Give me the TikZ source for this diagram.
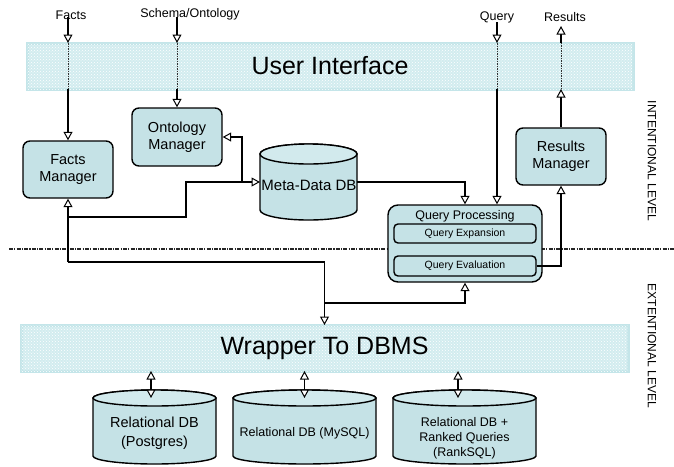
\documentclass[tikz,border=0pt]{standalone}
\usepackage{fontspec}
\setmainfont{Liberation Sans}
\usetikzlibrary{arrows.meta,patterns}
\definecolor{boxfill}{RGB}{197,226,230}
\definecolor{boxtop}{RGB}{210,234,237}
\definecolor{barfill}{RGB}{210,236,239}
\definecolor{barborder}{RGB}{196,229,233}
\newcommand\dbcyl[5]{% x1, x2, top-centre y, bottom-centre y, ry
  \pgfmathsetmacro\cylcx{(#1+#2)/2}%
  \pgfmathsetmacro\cylrx{(#2-#1)/2}%
  \filldraw[cyl] (#1,#3) -- (#1,#4) arc[start angle=180,end angle=360,x radius=\cylrx pt,y radius=#5pt] -- (#2,#3) arc[start angle=0,end angle=180,x radius=\cylrx pt,y radius=#5pt] -- cycle;
  \filldraw[cyl,fill=boxtop] (\cylcx,#3) ellipse[x radius=\cylrx pt,y radius=#5pt];
}
\tikzset{
 box/.style={draw=black, line width=1.4pt, fill=boxfill, rounded corners=7pt, align=center, inner sep=0pt, font=\fontsize{14.5}{17}\selectfont},
 grp/.style={draw=black, line width=1.4pt, fill=boxfill, rounded corners=10pt, inner sep=0pt},
 sub/.style={draw=black, line width=1.4pt, fill=boxfill, rounded corners=4pt, inner sep=0pt, font=\fontsize{10.5}{12}\selectfont},
 bar/.style={draw=barborder, line width=3pt, fill=barfill, inner sep=0pt, outer sep=0pt, font=\fontsize{25}{30}\selectfont, postaction={pattern=crosshatch dots, pattern color=white}},
 lab/.style={font=\fontsize{12.5}{15}\selectfont, inner sep=0pt},
 conn/.style={line width=1.6pt, draw=black},
 thru/.style={line width=1pt, draw=black!80, dash pattern=on 1.5pt off 1pt},
 sep/.style={line width=1.3pt, draw=black!85, dash pattern=on 4pt off 1.2pt on 1.2pt off 1.2pt},
 cyl/.style={draw=black, line width=1.4pt, fill=boxfill},
 dbslot/.style={inner sep=0pt, outer sep=0pt},
 dbtext/.style={align=center, inner sep=0pt},
 lvl/.style={font=\fontsize{12}{14}\selectfont, rotate=-90, inner sep=0pt},
}
\begin{document}
\begin{tikzpicture}[x=1pt,y=-1pt,>={Triangle[length=8.5pt,width=9pt,fill=white,line width=1pt]}]
\useasboundingbox[fill=white] (0,0) rectangle (674,466);

% separator
\coordinate (dl) at (9,249);
\coordinate (dr) at (674,249);
\draw[sep] (dl) -- (dr);

% bars
\node[bar, minimum width=606, minimum height=46] (ui) at (330,66) {User Interface};
\node[bar, minimum width=607, minimum height=46] (wrap) at (324.5,348) {Wrapper To DBMS};

% top labels
\node[lab] (flab) at (71,15) {Facts};
\node[lab] (slab) at (190,14) {Schema/Ontology};
\node[lab] (qlab) at (497,17) {Query};
\node[lab] (rlab) at (565,17) {Results};
\coordinate (ftop) at (68,17);
\coordinate (stop) at (177,17);
\coordinate (qtop) at (497,22);
\coordinate (rtop) at (561,26);

% boxes
\node[box, minimum width=90, minimum height=57] (fm) at (68,169.5) {Facts\\Manager};
\node[box, minimum width=90, minimum height=58] (om) at (177,137) {Ontology\\Manager};
\node[box, minimum width=90, minimum height=57] (rm) at (561,156.5) {Results\\Manager};

% meta-data db
\dbcyl{260}{357}{154}{210}{10}
\node[dbslot, minimum width=97, minimum height=56] (mdb) at (308.5,182) {};
\node[dbtext, font=\fontsize{15}{18}\selectfont] (mdbt) at (309,185) {Meta-Data DB};

% query processing
\node[grp, minimum width=154, minimum height=77] (qp) at (465,243.5) {};
\node[lab] (qpt) at (465,216) {Query Processing};
\node[sub, minimum width=142, minimum height=19] (qex) at (465,233.5) {Query Expansion};
\node[sub, minimum width=142, minimum height=20] (qev) at (465,266) {Query Evaluation};

% relational dbs
\dbcyl{93}{216}{398}{456}{8}
\dbcyl{233}{376}{398}{456}{8}
\dbcyl{393}{536}{398}{456}{8}
\node[dbslot, minimum width=123, minimum height=58] (db1) at (154.5,427) {};
\node[dbslot, minimum width=143, minimum height=58] (db2) at (304.5,427) {};
\node[dbslot, minimum width=143, minimum height=58] (db3) at (464.5,427) {};
\node[dbtext, font=\fontsize{14.5}{19}\selectfont] (db1t) at (154.5,433) {Relational DB\\(Postgres)};
\node[dbtext, font=\fontsize{12.5}{15}\selectfont] (db2t) at (304.5,433) {Relational DB (MySQL)};
\node[dbtext, font=\fontsize{12.5}{15}\selectfont] (db3t) at (464.5,438) {Relational DB +\\Ranked Queries\\(RankSQL)};

% level labels
\node[lvl] (il) at (652,161) {INTENTIONAL LEVEL};
\node[lvl] (el) at (652,346) {EXTENTIONAL LEVEL};

% inputs through UI
\draw[conn,->] (ftop) -- (ftop |- ui.north);
\draw[thru] (ftop |- ui.north) -- (ftop |- ui.south);
\draw[conn,->] (ftop |- ui.south) -- (fm.north);

\draw[conn,->] (stop) -- (stop |- ui.north);
\draw[thru] (stop |- ui.north) -- (stop |- ui.south);
\draw[conn,->] (stop |- ui.south) -- (om.north);

\draw[conn,->] (qtop) -- (qtop |- ui.north);
\draw[thru] (qtop |- ui.north) -- (qtop |- ui.south);
\draw[conn,->] (qtop |- ui.south) -- (qtop |- qp.north);

\draw[conn,->] (rm.north) -- (rm.north |- ui.south);
\draw[thru] (rm.north |- ui.south) -- (rm.north |- ui.north);
\draw[conn,->] (rm.north |- ui.north) -- (rtop);

% meta-data connections
\coordinate (jA) at (242,182);
\coordinate (jB) at (186,217);
\coordinate (jC) at (68,217);
\coordinate (jD) at (68,262);
\coordinate (jE) at (324.5,303);
\draw[conn,->] (jA) -- (mdb.west);
\draw[conn,->] (jA) |- (om.east);
\draw[conn] (jA) -| (jB) -- (jC);
\draw[conn,->] (jD) -- (fm.south);
\draw[conn,->] (jD) -| (wrap.north);
\draw[conn,->] (jE) -| (qp.south);
\draw[conn,->] (mdb.east) -| (qp.north);
\draw[conn,->] (qev.east) -| (rm.south);

% wrapper to databases
\draw[conn,<->] ([xshift=-3.5]db1.north |- wrap.south) -- ([xshift=-3.5]db1.north);
\draw[conn,<->] (db2.north |- wrap.south) -- (db2.north);
\draw[conn,<->] ([xshift=-6.5]db3.north |- wrap.south) -- ([xshift=-6.5]db3.north);
\end{tikzpicture}
\end{document}
